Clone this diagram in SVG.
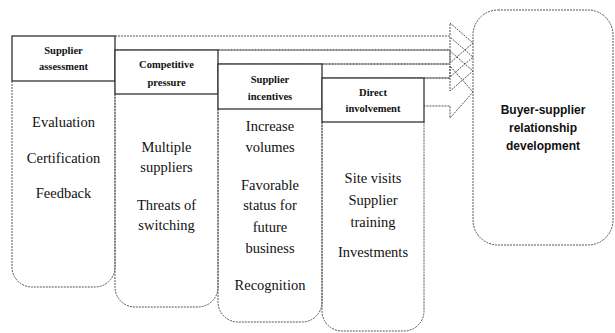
<svg xmlns="http://www.w3.org/2000/svg" width="615" height="333" viewBox="0 0 615 333">
<style>
.dash{fill:none;stroke:#555;stroke-width:1;stroke-dasharray:2 1}
.hdr{fill:#fff;stroke:#333;stroke-width:1.3}
text{fill:#111;text-anchor:middle}
.ht{font-family:'Liberation Serif','DejaVu Serif',serif;font-weight:bold;font-size:10.5px}
.bt{font-family:'Liberation Serif','DejaVu Serif',serif;font-size:14.5px}
.big{font-family:'Liberation Sans','DejaVu Sans',sans-serif;font-weight:bold;font-size:12px}
</style>
<rect width="615" height="333" fill="#fff"/>
<g id="connectors">
<path class="dash" d="M115,36 H450 V23 L473,43 L450,63 V50 H115"/>
<path class="dash" d="M218,50 H450 V37 L473,57 L450,77 V64 H218"/>
<path class="dash" d="M322,64 H450 V51 L473,71 L450,91 V78 H322"/>
<path class="dash" d="M424,78 H450 V66 L473,92 L450,118 V106 H424"/>
</g>
<g id="col1">
<path class="dash" d="M12,81 V267 A20,20 0 0 0 32,287 H95 A20,20 0 0 0 115,267 V81"/>
<rect class="hdr" x="12" y="36" width="103" height="45"/>
<text class="ht" font-family="Liberation Serif, serif" x="63.5" y="54">Supplier</text>
<text class="ht" font-family="Liberation Serif, serif" x="63.5" y="70">assessment</text>
<text class="bt" font-family="Liberation Serif, serif" x="63.5" y="127">Evaluation</text>
<text class="bt" font-family="Liberation Serif, serif" x="63.5" y="163">Certification</text>
<text class="bt" font-family="Liberation Serif, serif" x="63.5" y="198">Feedback</text>
</g>
<g id="col2">
<path class="dash" d="M115,94 V287 A20,20 0 0 0 135,307 H198 A20,20 0 0 0 218,287 V94"/>
<rect class="hdr" x="115" y="50" width="103" height="44"/>
<text class="ht" font-family="Liberation Serif, serif" x="166.5" y="68">Competitive</text>
<text class="ht" font-family="Liberation Serif, serif" x="166.5" y="86">pressure</text>
<text class="bt" font-family="Liberation Serif, serif" x="166.5" y="152">Multiple</text>
<text class="bt" font-family="Liberation Serif, serif" x="166.5" y="172">suppliers</text>
<text class="bt" font-family="Liberation Serif, serif" x="166.5" y="210">Threats of</text>
<text class="bt" font-family="Liberation Serif, serif" x="166.5" y="230">switching</text>
</g>
<g id="col3">
<path class="dash" d="M218,109 V302 A20,20 0 0 0 238,322 H302 A20,20 0 0 0 322,302 V109"/>
<rect class="hdr" x="218" y="64" width="104" height="45"/>
<text class="ht" font-family="Liberation Serif, serif" x="270" y="83">Supplier</text>
<text class="ht" font-family="Liberation Serif, serif" x="270" y="100">incentives</text>
<text class="bt" font-family="Liberation Serif, serif" x="270" y="131">Increase</text>
<text class="bt" font-family="Liberation Serif, serif" x="270" y="152">volumes</text>
<text class="bt" font-family="Liberation Serif, serif" x="270" y="190">Favorable</text>
<text class="bt" font-family="Liberation Serif, serif" x="270" y="210">status for</text>
<text class="bt" font-family="Liberation Serif, serif" x="270" y="232">future</text>
<text class="bt" font-family="Liberation Serif, serif" x="270" y="253">business</text>
<text class="bt" font-family="Liberation Serif, serif" x="270" y="290">Recognition</text>
</g>
<g id="col4">
<path class="dash" d="M322,122 V311 A20,20 0 0 0 342,331 H404 A20,20 0 0 0 424,311 V122"/>
<rect class="hdr" x="322" y="78" width="102" height="44"/>
<text class="ht" font-family="Liberation Serif, serif" x="373" y="96">Direct</text>
<text class="ht" font-family="Liberation Serif, serif" x="373" y="112">involvement</text>
<text class="bt" font-family="Liberation Serif, serif" x="373" y="183">Site visits</text>
<text class="bt" font-family="Liberation Serif, serif" x="373" y="205">Supplier</text>
<text class="bt" font-family="Liberation Serif, serif" x="373" y="227">training</text>
<text class="bt" font-family="Liberation Serif, serif" x="373" y="257">Investments</text>
</g>
<g id="outcome">
<rect class="dash" x="473" y="10" width="140" height="235" rx="25" ry="25"/>
<text class="big" x="543" y="114">Buyer-supplier</text>
<text class="big" x="543" y="132">relationship</text>
<text class="big" x="543" y="150">development</text>
</g>
</svg>
